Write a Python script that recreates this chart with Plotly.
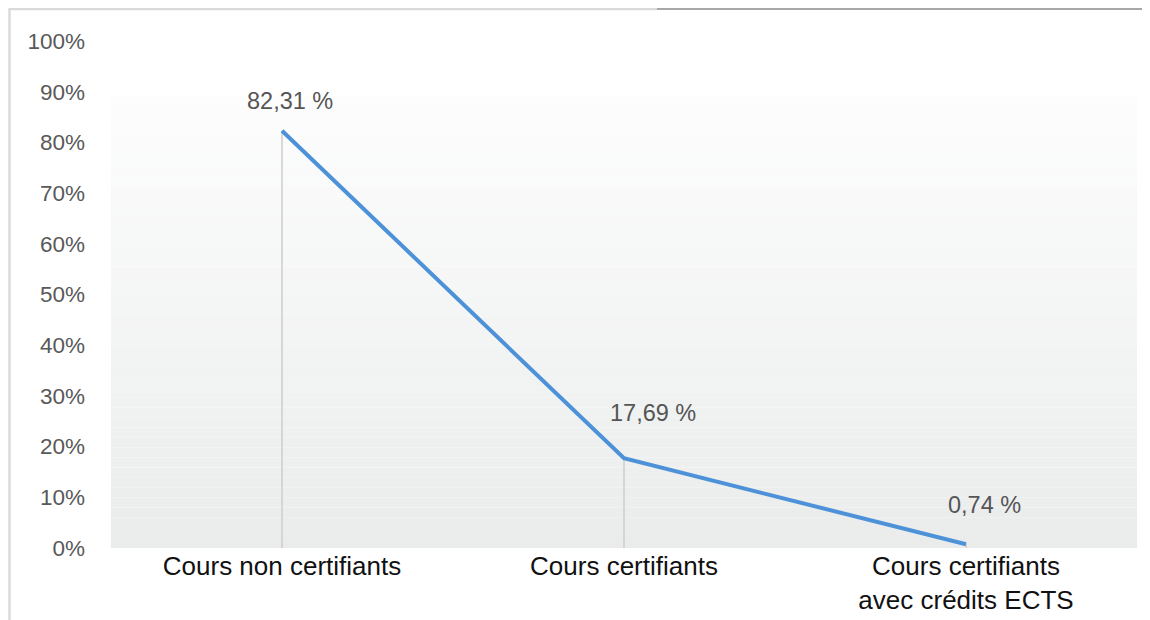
import plotly.graph_objects as go

categories = ["Cours non certifiants", "Cours certifiants", "Cours certifiants<br>avec crédits ECTS"]
values = [82.31, 17.69, 0.74]
ytick_vals = [0, 10, 20, 30, 40, 50, 60, 70, 80, 90, 100]
ytick_text = [f"{v}%" for v in ytick_vals]

label_texts = [f"{v:.2f} %".replace(".", ",") for v in values]
label_xshift = [8, 29, 18]
label_yshift = [30, 45, 39]

xs = list(range(len(categories)))
FONT = "Liberation Sans, Arial, Helvetica, sans-serif"

W, H = 1150, 620
L, R, T, B = 103, 21, 33, 80
PW, PH = W - L - R, H - T - B


def px_x(px):
    return (px - L) / PW


def px_y(py):
    return (H - B - py) / PH


fig = go.Figure()

# drop lines from each point to zero
dx, dy = [], []
for x, v in zip(xs, values):
    dx += [x, x, None]
    dy += [0, v, None]
fig.add_trace(go.Scatter(x=dx, y=dy, mode="lines",
                         line=dict(color="#cccccc", width=1.5),
                         hoverinfo="skip", showlegend=False))

fig.add_trace(go.Scatter(x=xs, y=values, mode="lines",
                         line=dict(color="#4d92d8", width=4),
                         showlegend=False))

shapes = []
# gradient background of the plot area (white at top to light gray at bottom)
n = 45
top = 89.2
c_top = (253, 253, 253)
c_bot = (234, 236, 236)
for i in range(n):
    y0 = top * i / n
    y1 = top * (i + 1) / n
    t = (i + 0.5) / n
    c = tuple(round(c_bot[k] + (c_top[k] - c_bot[k]) * t) for k in range(3))
    shapes.append(dict(type="rect", xref="x domain", yref="y", x0=0, x1=1,
                       y0=y0, y1=y1, fillcolor=f"rgb{c}", line=dict(width=0),
                       layer="below"))
# outer frame lines
shapes.append(dict(type="line", xref="paper", yref="paper", x0=px_x(1.5), x1=px_x(1.5),
                   y0=px_y(H), y1=px_y(1), line=dict(color="#dadada", width=2.5)))
shapes.append(dict(type="line", xref="paper", yref="paper", x0=px_x(0.5), x1=px_x(649),
                   y0=px_y(1), y1=px_y(1), line=dict(color="#dadada", width=2.5)))
shapes.append(dict(type="line", xref="paper", yref="paper", x0=px_x(649), x1=px_x(1143),
                   y0=px_y(1), y1=px_y(1), line=dict(color="#a8a8a8", width=2)))

annotations = []
for x, v, t, sx, sy in zip(xs, values, label_texts, label_xshift, label_yshift):
    annotations.append(dict(x=x, y=v, text=t, showarrow=False, xshift=sx, yshift=sy,
                            font=dict(family=FONT, size=23.5, color="#555555")))

fig.update_layout(
    width=W, height=H,
    margin=dict(l=L, r=R, t=T, b=B),
    paper_bgcolor="white", plot_bgcolor="white",
    shapes=shapes, annotations=annotations,
    xaxis=dict(range=[-0.5, len(categories) - 0.5], tickvals=xs, ticktext=categories,
               showgrid=False, zeroline=False, showline=False,
               tickfont=dict(family=FONT, size=26, color="#111111")),
    yaxis=dict(range=[0, 100], tickvals=ytick_vals, ticktext=ytick_text,
               showgrid=False, zeroline=False, showline=False,
               ticklabelstandoff=25,
               tickfont=dict(family=FONT, size=22.5, color="#595959")),
)

fig.write_html("out.html")
